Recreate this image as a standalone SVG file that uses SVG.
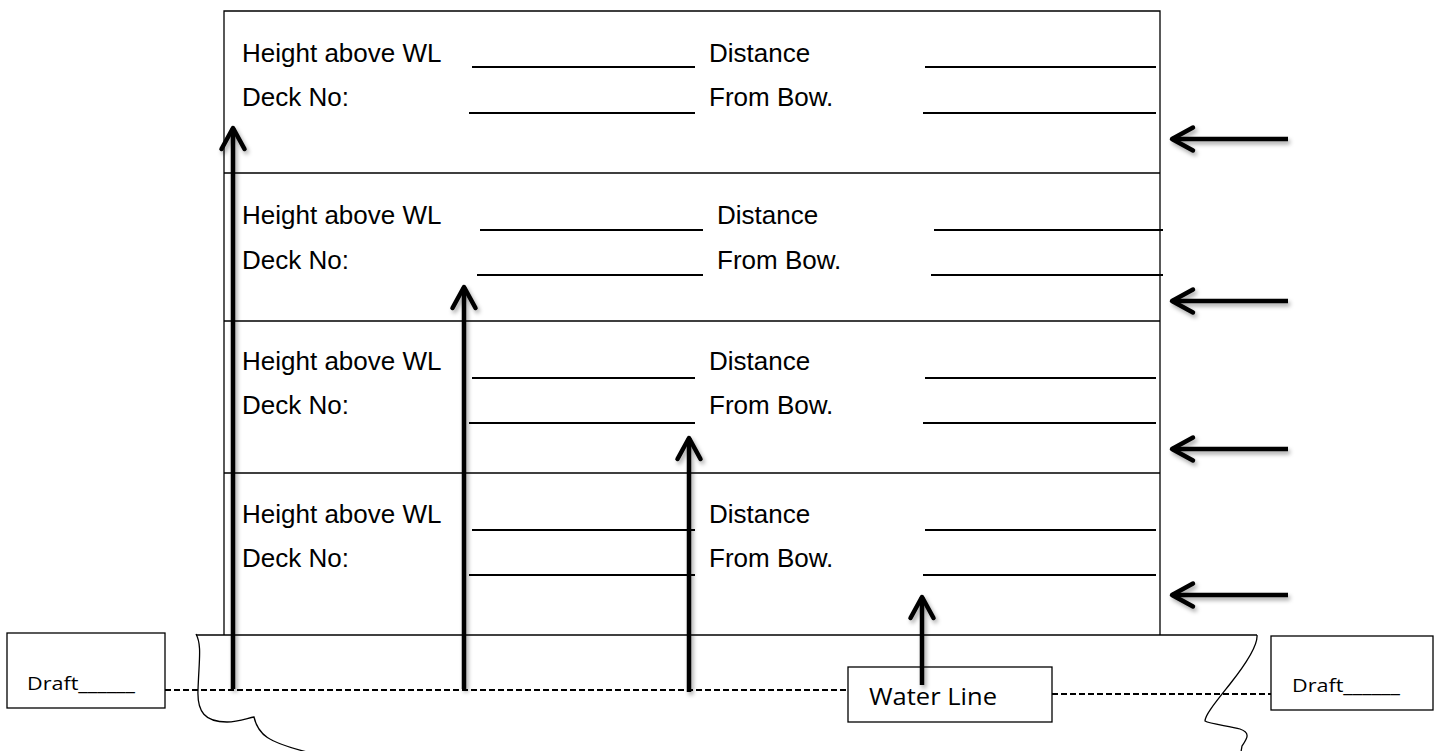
<svg xmlns="http://www.w3.org/2000/svg" width="1436" height="751" viewBox="0 0 1436 751">
<style>
.frame{fill:none;stroke:#000;stroke-width:1.3}
.box{fill:#fff;stroke:#000;stroke-width:1.3}
.ul{stroke:#000;stroke-width:2.2;fill:none}
.lbl{font-family:"Liberation Sans",Arial,sans-serif;font-size:26px;fill:#000}
.cal{font-family:"Open Sans","Liberation Sans",sans-serif;fill:#000}
.dash{stroke:#000;stroke-width:1.8;stroke-dasharray:6 3;fill:none}
.wave{fill:none;stroke:#000;stroke-width:1.3}
.arr{stroke:#000;stroke-width:4.5;fill:none;marker-end:url(#head)}
</style>
<defs>
<marker id="head" markerUnits="userSpaceOnUse" viewBox="0 0 30 30" markerWidth="30" markerHeight="30" refX="25" refY="15" orient="auto">
<path d="M4,3.5 L25,15 L4,26.5" fill="none" stroke="#000" stroke-width="4.5" stroke-linecap="round" stroke-linejoin="round"/>
</marker>
<filter id="sh" x="-50%" y="-10%" width="200%" height="130%">
<feDropShadow dx="2" dy="3" stdDeviation="2" flood-color="#000" flood-opacity="0.35"/>
</filter>
</defs>

<g id="hull">
<path class="dash" d="M165,690 L848,690"/>
<path class="dash" d="M1052,694 L1271,694"/>
<path class="wave" d="M196,634 C202,645 199,660 198,690 C197,712 205,722 227,722 C238,722 248,718 254,717 C258,735 268,742 307,752"/>
<path class="wave" d="M1257,635 C1258,645 1245,665 1230,684 C1215,703 1205,715 1205,721 C1210,724 1230,726 1240,729 C1252,733 1246,740 1242,746 L1241,752"/>
<path class="frame" d="M196,635 L1257,635"/>
</g>

<g id="deck-frame">
<path class="frame" d="M224,635 L224,11 L1160,11 L1160,635"/>
<path class="frame" d="M224,173 L1160,173 M224,321 L1160,321 M224,473 L1160,473"/>
</g>

<g id="deck1">
<text class="lbl" x="242" y="62">Height above WL</text>
<text class="lbl" x="242" y="106">Deck No:</text>
<text class="lbl" x="709" y="62">Distance</text>
<text class="lbl" x="709" y="106">From Bow.</text>
<path class="ul" d="M472,67 L695,67 M469,113 L695,113 M925,67 L1156,67 M923,113 L1156,113"/>
</g>
<g id="deck2">
<text class="lbl" x="242" y="224">Height above WL</text>
<text class="lbl" x="242" y="269">Deck No:</text>
<text class="lbl" x="717" y="224">Distance</text>
<text class="lbl" x="717" y="269">From Bow.</text>
<path class="ul" d="M480,230 L703,230 M477,275 L703,275 M934,230 L1163,230 M931,275 L1163,275"/>
</g>
<g id="deck3">
<text class="lbl" x="242" y="370">Height above WL</text>
<text class="lbl" x="242" y="414">Deck No:</text>
<text class="lbl" x="709" y="370">Distance</text>
<text class="lbl" x="709" y="414">From Bow.</text>
<path class="ul" d="M472,378 L695,378 M469,423 L695,423 M925,378 L1156,378 M923,423 L1156,423"/>
</g>
<g id="deck4">
<text class="lbl" x="242" y="523">Height above WL</text>
<text class="lbl" x="242" y="567">Deck No:</text>
<text class="lbl" x="709" y="523">Distance</text>
<text class="lbl" x="709" y="567">From Bow.</text>
<path class="ul" d="M472,530 L695,530 M469,575 L695,575 M925,530 L1156,530 M923,575 L1156,575"/>
</g>

<g id="draft-left">
<rect class="box" x="7" y="633" width="158" height="75"/>
<text class="cal" x="27" y="690" font-size="18.5" textLength="108" lengthAdjust="spacingAndGlyphs">Draft______</text>
</g>
<g id="draft-right">
<rect class="box" x="1271" y="636" width="162" height="74"/>
<text class="cal" x="1292" y="692" font-size="18.5" textLength="108" lengthAdjust="spacingAndGlyphs">Draft______</text>
</g>
<g id="water-line">
<rect class="box" x="848" y="667" width="204" height="55"/>
<text class="cal" x="869" y="705" font-size="24" textLength="128" lengthAdjust="spacingAndGlyphs">Water Line</text>
</g>

<g id="connectors" filter="url(#sh)">
<path class="arr" d="M233,689 L233,128"/>
<path class="arr" d="M464,689 L464,287"/>
<path class="arr" d="M689,692 L689,438"/>
<path class="arr" d="M922,685 L922,597"/>
<path class="arr" d="M1288,139 L1172,139"/>
<path class="arr" d="M1288,301 L1172,301"/>
<path class="arr" d="M1288,449 L1172,449"/>
<path class="arr" d="M1288,595 L1172,595"/>
</g>
</svg>
